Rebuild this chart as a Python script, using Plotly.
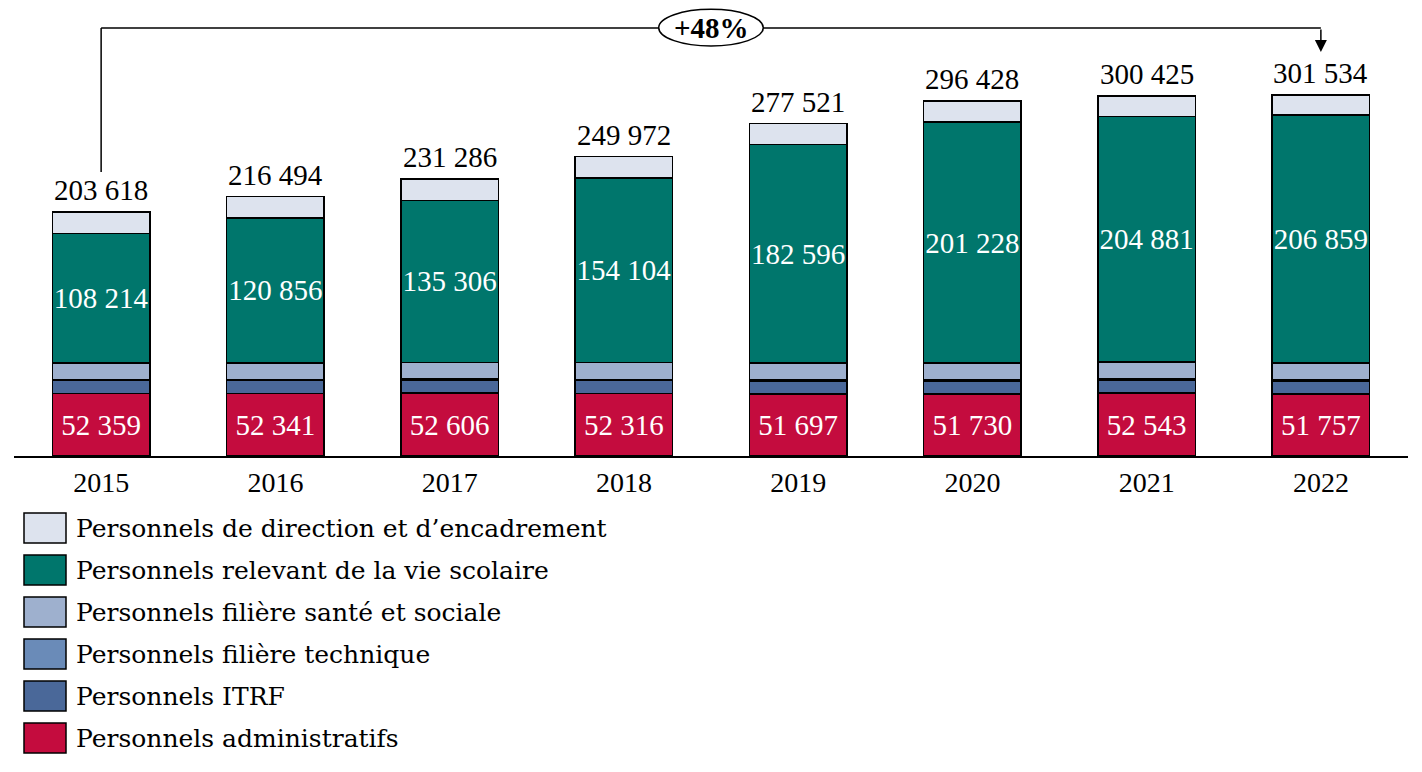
import plotly.graph_objects as go

years = ["2015", "2016", "2017", "2018", "2019", "2020", "2021", "2022"]

administratifs = [52359, 52341, 52606, 52316, 51697, 51730, 52543, 51757]
itrf = [10600, 10700, 10800, 10800, 10900, 10900, 11000, 11000]
technique = [900, 900, 900, 900, 900, 900, 900, 900]
sante_sociale = [13900, 13900, 13900, 14000, 14000, 14100, 14100, 14100]
vie_scolaire = [108214, 120856, 135306, 154104, 182596, 201228, 204881, 206859]
direction = [17645, 17797, 17774, 17852, 17428, 17570, 17001, 16918]
totals = [203618, 216494, 231286, 249972, 277521, 296428, 300425, 301534]

series = [
    ("Personnels administratifs", administratifs, "#C40C3E", True),
    ("Personnels ITRF", itrf, "#4A6899", False),
    ("Personnels filière technique", technique, "#6A8BB8", False),
    ("Personnels filière santé et sociale", sante_sociale, "#9EB0CE", False),
    ("Personnels relevant de la vie scolaire", vie_scolaire, "#00766C", True),
    ("Personnels de direction et d\u2019encadrement", direction, "#DDE3EE", False),
]

FONT = "Palatino Linotype, Book Antiqua, Palatino, Liberation Serif, serif"
LEG_FONT = "DejaVu Serif, serif"


def fmt(v):
    return f"{v:,}".replace(",", " ")


fig = go.Figure()

for name, vals, color, labelled in series:
    fig.add_trace(go.Bar(
        x=years, y=vals, name=name,
        marker=dict(color=color, line=dict(color="black", width=1.5)),
        text=[fmt(v) for v in vals] if labelled else None,
        textposition="inside" if labelled else "none",
        insidetextanchor="middle",
        textangle=0,
        constraintext="none",
        textfont=dict(color="white", size=29, family=FONT),
        showlegend=False,
    ))

# bracket +48%
y_br = 357400
shapes = [
    dict(type="line", xref="x", yref="y", x0=0, x1=0, y0=237100, y1=y_br,
         line=dict(color="black", width=1.5)),
    dict(type="line", xref="x", yref="y", x0=0, x1=7, y0=y_br, y1=y_br,
         line=dict(color="black", width=1.5)),
    dict(type="circle", xref="x", yref="y", x0=3.2, x1=3.8, y0=342350, y1=373000,
         fillcolor="white", line=dict(color="black", width=1.5)),
]
annotations = [
    dict(x=3.5, y=y_br, xref="x", yref="y", text="<b>+48%</b>", showarrow=False,
         font=dict(size=29, family=FONT, color="black")),
    dict(x=7, y=337300, xref="x", yref="y", ax=7, ay=y_br, axref="x", ayref="y",
         text="", showarrow=True, arrowhead=2, arrowsize=1.6, arrowwidth=1.5,
         arrowcolor="black"),
]

# totals above the bars
for i, tot in enumerate(totals):
    annotations.append(dict(x=i, y=tot, xref="x", yref="y", text=fmt(tot),
                            showarrow=False, yanchor="bottom", yshift=4,
                            font=dict(size=29, family=FONT, color="black")))


# custom legend below the chart (page pixels -> paper)
def px_x(p):
    return (p - 14) / 1394


def px_y(p):
    return (456 - p) / 448


for i, (name, vals, color, labelled) in enumerate(reversed(series)):
    cy = 528 + 42 * i
    shapes.append(dict(type="rect", xref="paper", yref="paper",
                       x0=px_x(24), x1=px_x(66), y0=px_y(cy - 15), y1=px_y(cy + 15),
                       fillcolor=color, line=dict(color="black", width=1.5)))
    annotations.append(dict(x=px_x(74), y=px_y(cy), xref="paper", yref="paper",
                            text=name, showarrow=False, xanchor="left", yanchor="middle",
                            font=dict(size=25, family=LEG_FONT, color="black")))

fig.update_layout(
    barmode="stack",
    bargap=0.44,
    width=1414, height=764,
    margin=dict(l=6, r=14, t=0, b=316),
    plot_bgcolor="white", paper_bgcolor="white",
    shapes=shapes, annotations=annotations,
    uniformtext=dict(minsize=29, mode="show"),
    font=dict(family=FONT, color="black"),
)
fig.update_xaxes(type="category", showline=True, linecolor="black", linewidth=2, ticks="",
                 tickfont=dict(size=28, family=FONT, color="black"), showgrid=False)
fig.update_yaxes(range=[0, 374100], visible=False, showgrid=False)

fig.write_html("out.html")
